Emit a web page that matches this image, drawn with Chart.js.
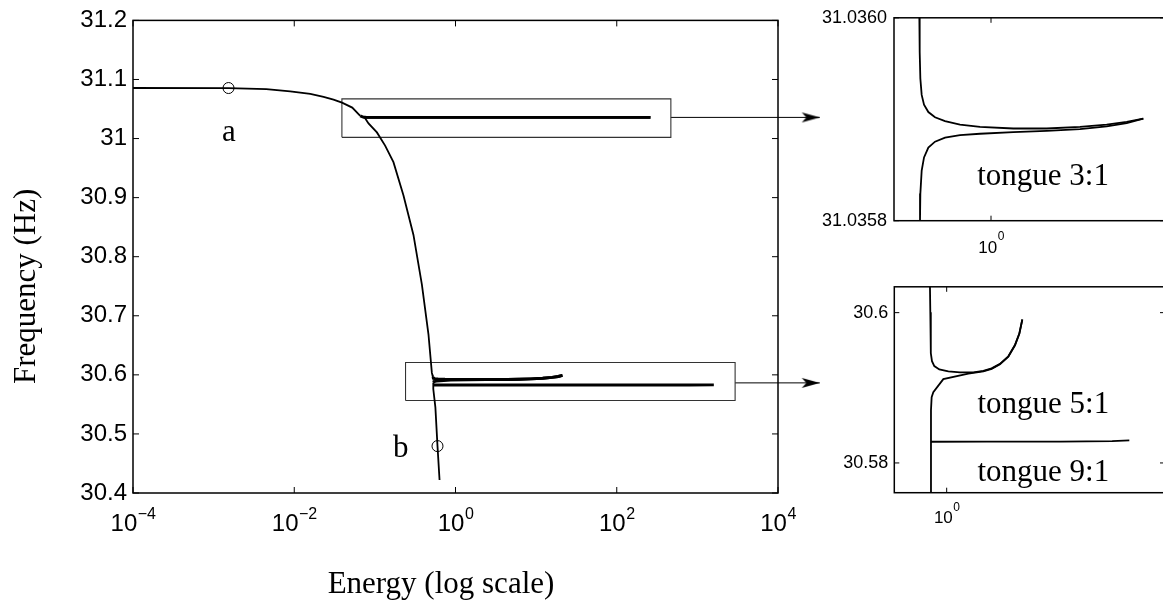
<!DOCTYPE html>
<html><head><meta charset="utf-8">
<script src="https://cdn.jsdelivr.net/npm/chart.js@4.4.1/dist/chart.umd.min.js"></script>
<style>
html,body{margin:0;padding:0;background:#fff;overflow:hidden;width:1163px;height:605px;}
#wrap{position:relative;width:1163px;height:605px;overflow:hidden;background:#fff;}
canvas{position:absolute;}
</style></head><body>
<div id="wrap">
<canvas id="main" width="1163" height="605" style="left:0;top:0;"></canvas>
<canvas id="ins1" width="370" height="270" style="left:800px;top:0;"></canvas>
<canvas id="ins2" width="370" height="335" style="left:800px;top:270px;"></canvas>
</div>
<script>
// ---------- data (Energy on log axis, Frequency in Hz) ----------
// main curve from low energy down to the 3:1 tongue, then its upper boundary
const upperE = [1e-4, 0.00153, 0.0045, 0.0089, 0.0158, 0.0231, 0.0307, 0.0391, 0.0524, 0.0658,
  0.07286, 0.07375, 0.07556, 0.07932, 0.08641, 0.10123, 0.12915, 0.18616, 0.32196, 0.66894,
  2.2619, 7.6479, 25.859, 68.55, 142.4, 261.8];
const upperF = [31.0856, 31.0853, 31.0835, 31.0798, 31.0755, 31.0704, 31.0659, 31.0608, 31.0524, 31.0385,
  31.0360003, 31.0359662, 31.0359402, 31.0359240, 31.0359143, 31.0359071, 31.0359019, 31.0358981, 31.0358948, 31.0358925,
  31.0358909, 31.0358909, 31.0358925, 31.0358948, 31.0358974, 31.0359006];
// lower boundary of tongue 3:1, steep descent, then tongue 5:1 (upper side)
const middleE = [261.8, 142.4, 68.55, 25.859, 7.6479, 2.2619, 0.66894, 0.32196, 0.18616, 0.12915,
  0.10123, 0.08641, 0.07932, 0.07556, 0.07464, 0.0834, 0.106, 0.134, 0.170, 0.226,
  0.301, 0.383, 0.462, 0.5093, 0.5162, 0.5232, 0.5303, 0.5522, 0.6067, 0.7424,
  1.0681, 1.7113, 2.934, 4.392, 6.151, 8.612, 12.06, 15.79, 18.81, 21.23];
const middleF = [31.0359006, 31.0358961, 31.0358929, 31.0358903, 31.0358886, 31.0358873, 31.0358857, 31.0358844, 31.0358818, 31.0358779,
  31.0358721, 31.0358624, 31.0358494, 31.0358267, 31.0358007, 31.0257, 31.0104, 30.988, 30.9600, 30.9040,
  30.8368, 30.7528, 30.6687, 30.6033, 30.60005, 30.59658, 30.59462, 30.59354, 30.59289, 30.59245,
  30.59219, 30.59206, 30.59206, 30.59224, 30.59258, 30.59319, 30.59419, 30.59571, 30.59723, 30.59909];
// return side of tongue 5:1 and the lower branch of the main curve
const lowerE = [21.23, 18.81, 15.79, 12.06, 8.612, 6.151, 4.392, 2.934, 2.396, 0.8727,
  0.5826, 0.5448, 0.5303, 0.5303, 0.5303, 0.563, 0.598, 0.634];
const lowerF = [30.59909, 30.59718, 30.59566, 30.59414, 30.59313, 30.59252, 30.59218, 30.59198, 30.59190, 30.59115,
  30.58941, 30.58876, 30.58703, 30.5829, 30.57596, 30.545, 30.4794, 30.422];
// tongue 9:1
const t9E = [0.5303, 5, 100, 800, 1600];
const t9F = [30.58282, 30.58283, 30.58285, 30.58290, 30.58299];
// points a and b
const markE = [0.00153, 0.598];
const markF = [31.0855, 30.4794];
const markText = ['a', 'b'];
const markTextE = [0.00155, 0.2094];
const markTextF = [30.996, 30.461];
// zoom boxes and arrows
const box1E = [0.039, 469], box1F = [31.0020, 31.0671];
const box2E = [0.24, 2938], box2F = [30.5566, 30.6210];
const arrow1E = [469, 33000], arrow1F = [31.0358, 31.0358];
const arrow2E = [2938, 33000], arrow2F = [30.5864, 30.5864];
// tongue labels
const tongueText = ['tongue 3:1', 'tongue 5:1', 'tongue 9:1'];
const tongueE = [6.69, 49.5, 49.5];
const tongueF = [31.0358348, 30.58659, 30.5776];
// ticks
const mainETicks = [1e-4, 1e-2, 1, 1e2, 1e4];
const mainEExp = ['\u22124', '\u22122', '0', '2', '4'];
const mainFTicks = [30.4, 30.5, 30.6, 30.7, 30.8, 30.9, 31.0, 31.1, 31.2];
const mainFLabels = ['30.4', '30.5', '30.6', '30.7', '30.8', '30.9', '31', '31.1', '31.2'];
const insETicks = [1];
const insEExp = ['0'];
const ins1FTicks = [31.0358, 31.0360];
const ins1FLabels = ['31.0358', '31.0360'];
const ins2FTicks = [30.58, 30.6];
const ins2FLabels = ['30.58', '30.6'];

// ---------- helpers ----------
const SANS = "'Liberation Sans', Arial, Helvetica, sans-serif";
const SERIF = "'Liberation Serif', 'Times New Roman', Times, serif";
const pts = (E, F) => E.map((e, i) => ({x: e, y: F[i]}));
const rect = (E, F) => [{x:E[0],y:F[0]},{x:E[1],y:F[0]},{x:E[1],y:F[1]},{x:E[0],y:F[1]},{x:E[0],y:F[0]}];

function arrowHead() {
  const c = document.createElement('canvas');
  c.width = 19; c.height = 12;
  const g = c.getContext('2d');
  g.fillStyle = '#000';
  g.beginPath();
  g.moveTo(18.5, 6); g.lineTo(0.5, 1); g.lineTo(5, 6); g.lineTo(0.5, 11); g.closePath();
  g.fill();
  return c;
}
const AH = arrowHead();

const decor = {
  id: 'decor',
  afterDraw(chart, args, o) {
    const {ctx, chartArea: a, scales} = chart;
    const xs = scales.x, ys = scales.y;
    ctx.save();
    // arrowheads at the end of arrow datasets
    chart.data.datasets.forEach((ds, i) => {
      if (!ds.arrow) return;
      const meta = chart.getDatasetMeta(i);
      const end = meta.data[meta.data.length - 1];
      ctx.drawImage(AH, end.x - AH.width + 0.5, end.y - AH.height / 2);
    });
    ctx.strokeStyle = '#000';
    ctx.lineWidth = o.frameWidth;
    ctx.strokeRect(a.left, a.top, a.right - a.left, a.bottom - a.top);
    ctx.lineWidth = 1;
    ctx.beginPath();
    xs.ticks.forEach(t => {
      const p = xs.getPixelForValue(t.value);
      ctx.moveTo(p, a.bottom); ctx.lineTo(p, a.bottom - o.tickLen);
      ctx.moveTo(p, a.top); ctx.lineTo(p, a.top + o.tickLen);
    });
    ys.ticks.forEach(t => {
      const p = ys.getPixelForValue(t.value);
      ctx.moveTo(a.left, p); ctx.lineTo(a.left + o.tickLen, p);
      ctx.moveTo(a.right, p); ctx.lineTo(a.right - o.tickLen, p);
    });
    ctx.stroke();
    ctx.fillStyle = '#000';
    ctx.textBaseline = 'alphabetic';
    ctx.textAlign = 'left';
    xs.ticks.forEach((t, i) => {
      const p = xs.getPixelForValue(t.value);
      const ex = o.xExp[i];
      ctx.font = o.baseSize + 'px ' + SANS;
      const wb = ctx.measureText('10').width;
      ctx.font = o.expSize + 'px ' + SANS;
      const we = ctx.measureText(ex).width;
      const x0 = p - (wb + we) / 2;
      const yb = a.bottom + o.labelDrop;
      ctx.font = o.baseSize + 'px ' + SANS;
      ctx.fillText('10', x0, yb);
      ctx.font = o.expSize + 'px ' + SANS;
      ctx.fillText(ex, x0 + wb + 0.5, yb - o.expRaise);
    });
    ctx.textAlign = 'center';
    (o.texts || []).forEach(t => {
      ctx.font = t.size + 'px ' + SERIF;
      ctx.fillText(t.text, xs.getPixelForValue(t.x), ys.getPixelForValue(t.y));
    });
    if (o.xTitle) {
      ctx.font = o.titleSize + 'px ' + SERIF;
      ctx.fillText(o.xTitle, a.left + o.xTitleDx, a.bottom + o.xTitleDy);
    }
    if (o.yTitle) {
      ctx.font = o.titleSize + 'px ' + SERIF;
      ctx.translate(a.left - o.yTitleDx, a.top + o.yTitleDy);
      ctx.rotate(-Math.PI / 2);
      ctx.fillText(o.yTitle, 0, 0);
    }
    ctx.restore();
  }
};

function curveSets(thickTongues) {
  const base = {showLine: true, borderColor: '#000', pointRadius: 0, borderWidth: 1.8, tension: 0, fill: false};
  const seg = thickTongues ? {
    borderWidth: c => {
      const d = c.chart.data.datasets[c.datasetIndex].data;
      const a = d[c.p0DataIndex], b = d[c.p1DataIndex];
      return (Math.abs(c.p1.y - c.p0.y) < 1.5 && Math.min(a.x, b.x) > 0.06) ? 2.9 : 1.8;
    }
  } : undefined;
  return [
    Object.assign({data: pts(upperE, upperF), segment: seg}, base),
    Object.assign({data: pts(middleE, middleF), segment: seg}, base),
    Object.assign({data: pts(lowerE, lowerF), segment: seg}, base),
    Object.assign({data: pts(t9E, t9F), segment: seg}, base)
  ];
}

function axes(o) {
  return {
    x: {
      type: 'logarithmic', min: o.xmin, max: o.xmax,
      grid: {display: false, drawTicks: false}, border: {display: false},
      ticks: {display: false},
      afterBuildTicks: s => { s.ticks = o.xticks.map(v => ({value: v})); },
      afterFit: s => { s.height = o.xh; }
    },
    y: {
      type: 'linear', min: o.ymin, max: o.ymax,
      grid: {display: false, drawTicks: false}, border: {display: false},
      ticks: {
        color: '#000', padding: o.pad, font: {family: SANS, size: o.fs},
        callback: (v, i) => o.ylabels[i]
      },
      afterBuildTicks: s => { s.ticks = o.yticks.map(v => ({value: v})); },
      afterFit: s => { s.width = o.yw; }
    }
  };
}

Chart.defaults.font.family = SANS;
Chart.defaults.color = '#000';

// ---------- main chart ----------
new Chart(document.getElementById('main'), {
  type: 'scatter',
  data: {
    datasets: curveSets(true).concat([
      {data: pts(markE, markF), showLine: false, pointRadius: 5.5, pointBorderWidth: 1,
       pointBackgroundColor: 'rgba(0,0,0,0)', pointBorderColor: '#000'},
      {data: rect(box1E, box1F), showLine: true, borderColor: '#333', borderWidth: 1.1, pointRadius: 0, tension: 0},
      {data: rect(box2E, box2F), showLine: true, borderColor: '#333', borderWidth: 1.1, pointRadius: 0, tension: 0},
      {data: pts(arrow1E, arrow1F), showLine: true, borderColor: '#000', borderWidth: 1, clip: false,
       pointRadius: 0, arrow: true},
      {data: pts(arrow2E, arrow2F), showLine: true, borderColor: '#000', borderWidth: 1, clip: false,
       pointRadius: 0, arrow: true}
    ])
  },
  options: {
    responsive: false, animation: false, devicePixelRatio: 1,
    layout: {padding: {top: 17, right: 385, left: 0, bottom: 0}},
    scales: axes({xmin: 1e-4, xmax: 1e4, xticks: mainETicks, xh: 112,
      ymin: 30.4, ymax: 31.2, yticks: mainFTicks, ylabels: mainFLabels, yw: 133, fs: 24, pad: 6}),
    plugins: {
      legend: {display: false}, tooltip: {enabled: false},
      decor: {
        frameWidth: 1.5, tickLen: 6, xExp: mainEExp, baseSize: 24, expSize: 16, labelDrop: 38, expRaise: 12,
        texts: markText.map((t, i) => ({text: t, x: markTextE[i], y: markTextF[i], size: 31})),
        titleSize: 31, xTitle: 'Energy (log scale)', xTitleDx: 308, xTitleDy: 100,
        yTitle: 'Frequency (Hz)', yTitleDx: 98.5, yTitleDy: 266
      }
    }
  },
  plugins: [decor]
});

// ---------- inset 1: tongue 3:1 ----------
new Chart(document.getElementById('ins1'), {
  type: 'scatter',
  data: {datasets: curveSets(false)},
  options: {
    responsive: false, animation: false, devicePixelRatio: 1,
    layout: {padding: {top: 15.3, right: 5, left: 0, bottom: 0}},
    scales: axes({xmin: 0.02884, xmax: 578, xticks: insETicks, xh: 49.3,
      ymin: 31.0358, ymax: 31.0360, yticks: ins1FTicks, ylabels: ins1FLabels, yw: 94, fs: 18, pad: 7}),
    plugins: {
      legend: {display: false}, tooltip: {enabled: false},
      decor: {
        frameWidth: 1.5, tickLen: 5, xExp: insEExp, baseSize: 17, expSize: 12, labelDrop: 32, expRaise: 13,
        texts: [{text: tongueText[0], x: tongueE[0], y: tongueF[0], size: 31}]
      }
    }
  },
  plugins: [decor]
});

// ---------- inset 2: tongues 5:1 and 9:1 ----------
new Chart(document.getElementById('ins2'), {
  type: 'scatter',
  data: {datasets: curveSets(false)},
  options: {
    responsive: false, animation: false, devicePixelRatio: 1,
    layout: {padding: {top: 12.3, right: 5, left: 0, bottom: 0}},
    scales: axes({xmin: 0.1205, xmax: 6761, xticks: insETicks, xh: 112.3,
      ymin: 30.57604, ymax: 30.60344, yticks: ins2FTicks, ylabels: ins2FLabels, yw: 94.3, fs: 18, pad: 6}),
    plugins: {
      legend: {display: false}, tooltip: {enabled: false},
      decor: {
        frameWidth: 1.5, tickLen: 5, xExp: insEExp, baseSize: 17, expSize: 12, labelDrop: 30, expRaise: 12,
        texts: [
          {text: tongueText[1], x: tongueE[1], y: tongueF[1], size: 31},
          {text: tongueText[2], x: tongueE[2], y: tongueF[2], size: 31}
        ]
      }
    }
  },
  plugins: [decor]
});
</script>
</body></html>
